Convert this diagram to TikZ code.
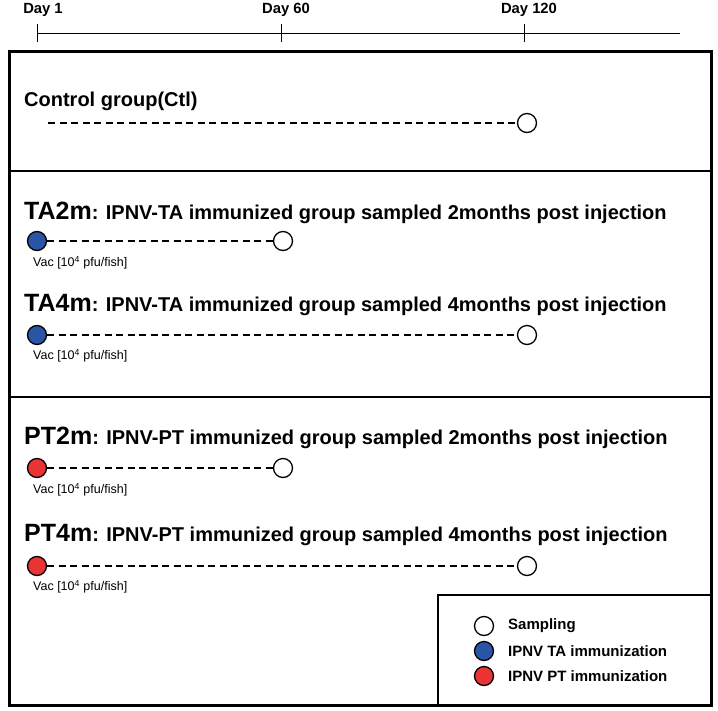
\documentclass[tikz,border=0pt]{standalone}
\usepackage{fontspec}
\setmainfont{Liberation Sans}
\usetikzlibrary{positioning}
\definecolor{tablue}{RGB}{42,84,164}
\definecolor{ptred}{RGB}{234,52,52}
\begin{document}
\begin{tikzpicture}[x=1pt, y=-1pt,
  dot/.style={circle, draw, line width=1.3pt, minimum size=19pt, inner sep=0pt},
  sampling/.style={dot, fill=white},
  vacta/.style={dot, fill=tablue},
  vacpt/.style={dot, fill=ptred},
  timeline/.style={dash pattern=on 7pt off 4.5pt, line width=1.1pt},
  daylabel/.style={font=\fontsize{14.8}{17}\selectfont\bfseries},
  grouptitle/.style={anchor=west, inner sep=0pt, font=\fontsize{20}{23}\selectfont\bfseries},
  vaclabel/.style={anchor=west, inner sep=0pt, font=\fontsize{12.5}{15}\selectfont},
  legendtext/.style={anchor=west, inner sep=0pt, font=\fontsize{15}{17}\selectfont\bfseries}]
\useasboundingbox (0,0) rectangle (718,710);
% time axis
\draw[line width=1pt] (37,33) -- (680,33);
\foreach \x in {37,281,524} \draw[line width=1pt] (\x,24) -- (\x,42);
\node[daylabel] (d1) at (43,10) {Day 1};
\node[daylabel] (d60) at (286,10) {Day 60};
\node[daylabel] (d120) at (529,10) {Day 120};
% frame and sections
\draw[line width=3pt] (9,51) rectangle (711,705);
\draw[line width=2pt] (9,171) -- (711,171);
\draw[line width=2pt] (9,397) -- (711,397);
% control group
\node[grouptitle] (ctl) at (24,101) {Control group(Ctl)};
\coordinate (ctl0) at (48,123);
\node[sampling] (ctl1) at (527,123) {};
\draw[timeline] (ctl0) -- (ctl1);
% TA2m
\node[grouptitle] (ta2) at (24,213) {{\fontsize{25}{28}\selectfont TA2m}: IPNV-TA immunized group sampled 2months post injection};
\node[vacta] (ta2a) at (37,241) {};
\node[sampling] (ta2b) at (283,241) {};
\draw[timeline] (ta2a) -- (ta2b);
\node[vaclabel] (ta2v) at (33,263) {Vac [10\textsuperscript{4} pfu/fish]};
% TA4m
\node[grouptitle] (ta4) at (24,305) {{\fontsize{25}{28}\selectfont TA4m}: IPNV-TA immunized group sampled 4months post injection};
\node[vacta] (ta4a) at (37,335) {};
\node[sampling] (ta4b) at (527,335) {};
\draw[timeline] (ta4a) -- (ta4b);
\node[vaclabel] (ta4v) at (33,356) {Vac [10\textsuperscript{4} pfu/fish]};
% PT2m
\node[grouptitle] (pt2) at (24,438) {{\fontsize{25}{28}\selectfont PT2m}: IPNV-PT immunized group sampled 2months post injection};
\node[vacpt] (pt2a) at (37,468) {};
\node[sampling] (pt2b) at (283,468) {};
\draw[timeline] (pt2a) -- (pt2b);
\node[vaclabel] (pt2v) at (33,490) {Vac [10\textsuperscript{4} pfu/fish]};
% PT4m
\node[grouptitle] (pt4) at (24,535) {{\fontsize{25}{28}\selectfont PT4m}: IPNV-PT immunized group sampled 4months post injection};
\node[vacpt] (pt4a) at (37,566) {};
\node[sampling] (pt4b) at (527,566) {};
\draw[timeline] (pt4a) -- (pt4b);
\node[vaclabel] (pt4v) at (33,587) {Vac [10\textsuperscript{4} pfu/fish]};
% legend
\draw[line width=2.5pt] (438,705) -- (438,595) -- (711,595);
\node[sampling] (lg1) at (484,626) {};
\node[vacta] (lg2) at (484,651) {};
\node[vacpt] (lg3) at (484,676) {};
\node[legendtext] (lt1) at (508,626) {Sampling};
\node[legendtext] (lt2) at (508,651) {IPNV TA immunization};
\node[legendtext] (lt3) at (508,676) {IPNV PT immunization};
\end{tikzpicture}
\end{document}
